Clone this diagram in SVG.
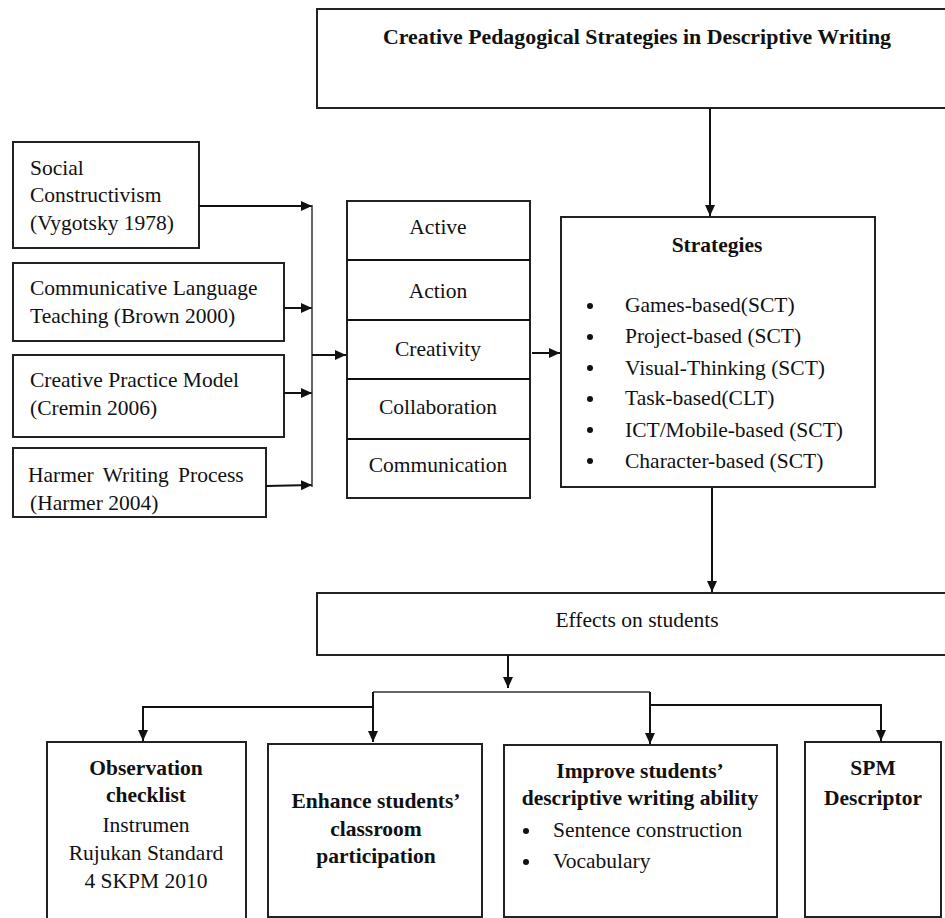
<svg xmlns="http://www.w3.org/2000/svg" width="945" height="918" viewBox="0 0 945 918">
<defs>
<marker id="ah" markerUnits="userSpaceOnUse" markerWidth="12" markerHeight="12" refX="11" refY="6" orient="auto">
<path d="M0,1 L11,6 L0,11 z" fill="#111"/>
</marker>
<style>
.box{fill:#fff;stroke:#222;stroke-width:2}
.t{font-size:21.5px;fill:#111}
.b{font-weight:bold}
.m{text-anchor:middle}
.c{fill:none;stroke:#111;stroke-width:2}
.c1{fill:none;stroke:#333;stroke-width:1.5}
</style>
</defs>
<rect width="945" height="918" fill="#fff"/>
<g font-family="Liberation Serif">

<g id="title">
<rect class="box" x="317" y="9" width="640" height="99"/>
<text class="t b m" font-family="Liberation Serif" x="637" y="44" textLength="508" lengthAdjust="spacingAndGlyphs">Creative Pedagogical Strategies in Descriptive Writing</text>
</g>

<g id="social">
<rect class="box" x="13" y="142" width="186" height="106"/>
<text class="t" font-family="Liberation Serif" x="30" y="175">Social</text>
<text class="t" font-family="Liberation Serif" x="30" y="202">Constructivism</text>
<text class="t" font-family="Liberation Serif" x="30" y="230">(Vygotsky 1978)</text>
</g>
<g id="clt">
<rect class="box" x="13" y="263" width="271" height="78"/>
<text class="t" font-family="Liberation Serif" x="30" y="295">Communicative Language</text>
<text class="t" font-family="Liberation Serif" x="30" y="323">Teaching (Brown 2000)</text>
</g>
<g id="cpm">
<rect class="box" x="13" y="355" width="271" height="82"/>
<text class="t" font-family="Liberation Serif" x="30" y="387">Creative Practice Model</text>
<text class="t" font-family="Liberation Serif" x="30" y="415">(Cremin 2006)</text>
</g>
<g id="harmer">
<rect class="box" x="13" y="448" width="253" height="69"/>
<text class="t" font-family="Liberation Serif" x="28" y="482" word-spacing="4">Harmer Writing Process</text>
<text class="t" font-family="Liberation Serif" x="30" y="510">(Harmer 2004)</text>
</g>

<g id="c5">
<rect class="box" x="347" y="201" width="183" height="297"/>
<line class="c" x1="347" y1="260" x2="530" y2="260"/>
<line class="c" x1="347" y1="320" x2="530" y2="320"/>
<line class="c" x1="347" y1="379" x2="530" y2="379"/>
<line class="c" x1="347" y1="439" x2="530" y2="439"/>
<text class="t m" font-family="Liberation Serif" x="438" y="234">Active</text>
<text class="t m" font-family="Liberation Serif" x="438" y="298">Action</text>
<text class="t m" font-family="Liberation Serif" x="438" y="356">Creativity</text>
<text class="t m" font-family="Liberation Serif" x="438" y="414">Collaboration</text>
<text class="t m" font-family="Liberation Serif" x="438" y="472">Communication</text>
</g>

<g id="strategies">
<rect class="box" x="561" y="217" width="314" height="270"/>
<text class="t b m" font-family="Liberation Serif" x="717" y="252">Strategies</text>
<g fill="#111">
<circle cx="590" cy="306" r="3"/>
<circle cx="590" cy="337" r="3"/>
<circle cx="590" cy="368" r="3"/>
<circle cx="590" cy="399" r="3"/>
<circle cx="590" cy="430" r="3"/>
<circle cx="590" cy="461" r="3"/>
</g>
<text class="t" font-family="Liberation Serif" x="625" y="312">Games-based(SCT)</text>
<text class="t" font-family="Liberation Serif" x="625" y="343">Project-based (SCT)</text>
<text class="t" font-family="Liberation Serif" x="625" y="375">Visual-Thinking (SCT)</text>
<text class="t" font-family="Liberation Serif" x="625" y="405">Task-based(CLT)</text>
<text class="t" font-family="Liberation Serif" x="625" y="437">ICT/Mobile-based (SCT)</text>
<text class="t" font-family="Liberation Serif" x="625" y="468">Character-based (SCT)</text>
</g>

<g id="effects">
<rect class="box" x="317" y="593" width="640" height="62"/>
<text class="t m" font-family="Liberation Serif" x="637" y="627">Effects on students</text>
</g>

<g id="observation">
<rect class="box" x="47" y="742" width="199" height="180"/>
<text class="t b m" font-family="Liberation Serif" x="146" y="775">Observation</text>
<text class="t b m" font-family="Liberation Serif" x="146" y="802">checklist</text>
<text class="t m" font-family="Liberation Serif" x="146" y="832">Instrumen</text>
<text class="t m" font-family="Liberation Serif" x="146" y="860">Rujukan Standard</text>
<text class="t m" font-family="Liberation Serif" x="146" y="888">4 SKPM 2010</text>
</g>
<g id="enhance">
<rect class="box" x="268" y="744" width="214" height="173"/>
<text class="t b m" font-family="Liberation Serif" x="376" y="808">Enhance students’</text>
<text class="t b m" font-family="Liberation Serif" x="376" y="836">classroom</text>
<text class="t b m" font-family="Liberation Serif" x="376" y="863">participation</text>
</g>
<g id="improve">
<rect class="box" x="504" y="745" width="273" height="172"/>
<text class="t b m" font-family="Liberation Serif" x="640" y="778">Improve students’</text>
<text class="t b m" font-family="Liberation Serif" x="640" y="805">descriptive writing ability</text>
<circle cx="526" cy="831" r="3" fill="#111"/>
<circle cx="526" cy="862" r="3" fill="#111"/>
<text class="t" font-family="Liberation Serif" x="553" y="837">Sentence construction</text>
<text class="t" font-family="Liberation Serif" x="553" y="868">Vocabulary</text>
</g>
<g id="spm">
<rect class="box" x="805" y="742" width="136" height="175"/>
<text class="t b m" font-family="Liberation Serif" x="873" y="775">SPM</text>
<text class="t b m" font-family="Liberation Serif" x="873" y="805">Descriptor</text>
</g>
</g>

<g id="connectors">
<line class="c" x1="199" y1="206" x2="312" y2="206" marker-end="url(#ah)"/>
<line class="c" x1="284" y1="308" x2="312" y2="308" marker-end="url(#ah)"/>
<line class="c" x1="284" y1="393" x2="312" y2="393" marker-end="url(#ah)"/>
<line class="c" x1="266" y1="486" x2="312" y2="485" marker-end="url(#ah)"/>
<line class="c1" x1="312" y1="205" x2="312" y2="487"/>
<line class="c" x1="312" y1="355" x2="346" y2="355" marker-end="url(#ah)"/>
<line class="c" x1="532" y1="353" x2="560" y2="353" marker-end="url(#ah)"/>
<line class="c" x1="710" y1="108" x2="710" y2="216" marker-end="url(#ah)"/>
<line class="c" x1="712" y1="488" x2="712" y2="592" marker-end="url(#ah)"/>
<line class="c" x1="508" y1="655" x2="508" y2="688" marker-end="url(#ah)"/>
<polyline class="c1" points="373,692 650,692"/>
<line class="c" x1="373" y1="692" x2="373" y2="742" marker-end="url(#ah)"/>
<polyline class="c" points="373,707 143,707 143,741" marker-end="url(#ah)"/>
<line class="c" x1="650" y1="692" x2="650" y2="744" marker-end="url(#ah)"/>
<polyline class="c" points="650,705 881,705 881,741" marker-end="url(#ah)"/>
</g>
</svg>
